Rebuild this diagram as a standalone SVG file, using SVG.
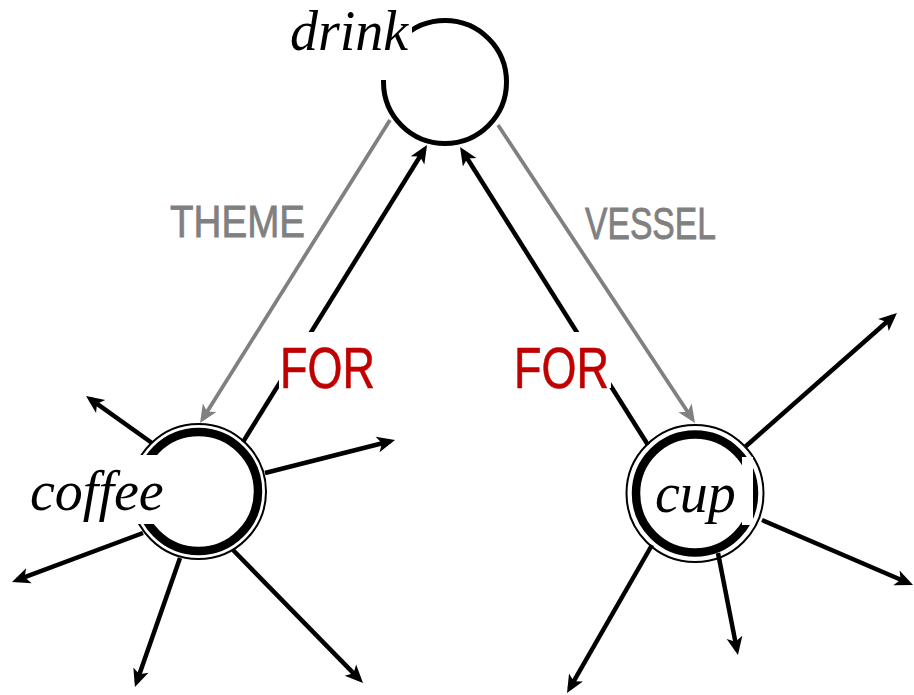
<svg xmlns="http://www.w3.org/2000/svg" width="914" height="695" viewBox="0 0 914 695">
<style>
.ln{stroke:#000;stroke-width:4.5;fill:none;marker-end:url(#ah)}
.gl{stroke:#808080;stroke-width:3.8;fill:none;marker-end:url(#ahg)}
.thick{fill:#fff;stroke:#000;stroke-width:8.5}
.thin{fill:none;stroke:#000;stroke-width:2}
.bg{fill:#fff;stroke:none}
.nl{font-family:"Liberation Serif","Times New Roman",serif;font-style:italic;font-size:56px;fill:#000}
.rl{font-family:"Liberation Sans",Arial,sans-serif;font-size:45px;fill:#808080;stroke:#808080;stroke-width:0.8}
.fl{font-family:"Liberation Sans",Arial,sans-serif;font-size:57px;fill:#c00000;stroke:#c00000;stroke-width:0.6}
</style>
<defs>
<marker id="ah" markerUnits="userSpaceOnUse" viewBox="-14 -9 21 18" refX="0" refY="0" markerWidth="21" markerHeight="18" orient="auto" overflow="visible">
<path d="M5,0 L-13,-8 L-8.5,0 L-13,8 Z" fill="#000"/>
</marker>
<marker id="ahg" markerUnits="userSpaceOnUse" viewBox="-14 -9 21 18" refX="0" refY="0" markerWidth="21" markerHeight="18" orient="auto" overflow="visible">
<path d="M5,0 L-13,-8 L-8.5,0 L-13,8 Z" fill="#808080"/>
</marker>
</defs>
<rect width="914" height="695" fill="#fff"/>
<g id="connectors">
<line class="gl" x1="390" y1="120" x2="202.7" y2="418.8"/>
<line class="gl" x1="498" y1="125" x2="692.2" y2="418.8"/>
<line class="ln" x1="243" y1="442" x2="424.4" y2="149.3"/>
<line class="ln" x1="648" y1="445" x2="462.7" y2="151.2"/>
<line class="ln" x1="152" y1="443" x2="90.1" y2="398.9"/>
<line class="ln" x1="265" y1="473" x2="390.2" y2="441.2"/>
<line class="ln" x1="143" y1="533" x2="16.7" y2="580.2"/>
<line class="ln" x1="180" y1="558" x2="136.6" y2="682.3"/>
<line class="ln" x1="233" y1="550" x2="359.5" y2="679.4"/>
<line class="ln" x1="745" y1="447" x2="893.2" y2="316.3"/>
<line class="ln" x1="762" y1="520" x2="908.4" y2="583"/>
<line class="ln" x1="718" y1="553" x2="737" y2="650.1"/>
<line class="ln" x1="652" y1="545" x2="569.5" y2="688.7"/>
<text class="rl" x="170" y="237" textLength="135" lengthAdjust="spacingAndGlyphs">THEME</text>
<text class="rl" x="585" y="239" textLength="131" lengthAdjust="spacingAndGlyphs">VESSEL</text>
<rect class="bg" x="279" y="332" width="100" height="56"/>
<text class="fl" x="280" y="388" textLength="95" lengthAdjust="spacingAndGlyphs">FOR</text>
<rect class="bg" x="512" y="332" width="99" height="56"/>
<text class="fl" x="514" y="388" textLength="95" lengthAdjust="spacingAndGlyphs">FOR</text>
</g>
<g id="node-drink">
<circle cx="445" cy="82" r="61.5" fill="#fff" stroke="#000" stroke-width="5"/>
<rect class="bg" x="280" y="0" width="132" height="80"/>
<text class="nl" x="290" y="50">drink</text>
</g>
<g id="node-coffee">
<circle class="thin" cx="198.5" cy="491.5" r="67.5"/>
<circle class="thick" cx="198.5" cy="491.5" r="59.5"/>
<rect class="bg" x="20" y="455" width="145" height="69"/>
<text class="nl" x="30" y="510">coffee</text>
</g>
<g id="node-cup">
<circle class="thin" cx="695" cy="493.5" r="68.5"/>
<circle class="thick" cx="695" cy="493.5" r="59"/>
<rect class="bg" x="742" y="457" width="11" height="68"/>
<text class="nl" x="655" y="512">cup</text>
</g>
</svg>
